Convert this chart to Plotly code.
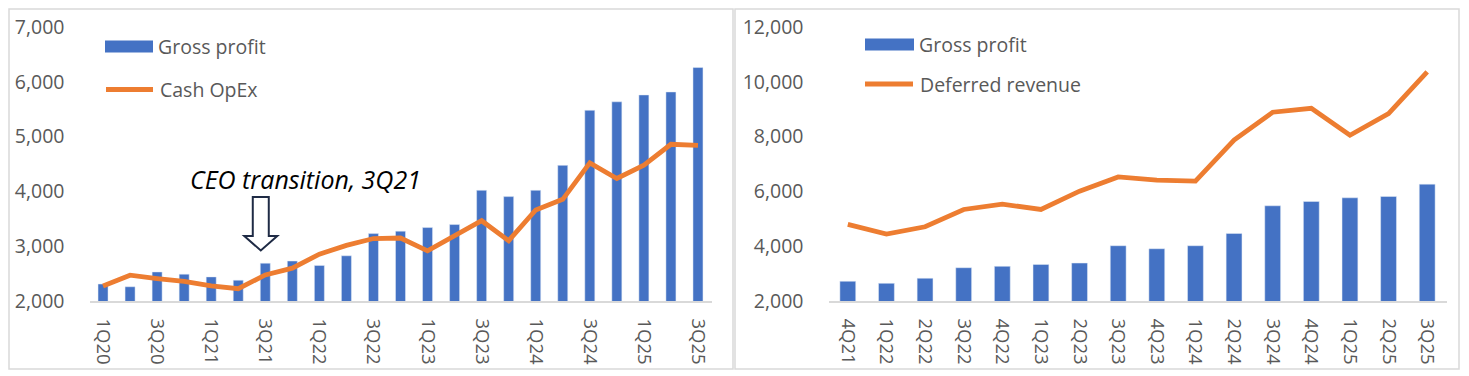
import plotly.graph_objects as go

# ---------------- data ----------------
quarters_left = ["1Q20", "2Q20", "3Q20", "4Q20", "1Q21", "2Q21", "3Q21", "4Q21",
                 "1Q22", "2Q22", "3Q22", "4Q22", "1Q23", "2Q23", "3Q23", "4Q23",
                 "1Q24", "2Q24", "3Q24", "4Q24", "1Q25", "2Q25", "3Q25"]
gross_profit = [2310, 2260, 2530, 2490, 2440, 2380, 2690, 2730,
                2650, 2825, 3230, 3275, 3340, 3395, 4020, 3905,
                4020, 4475, 5480, 5635, 5760, 5815, 6260]
cash_opex = [2275, 2470, 2410, 2360, 2275, 2225, 2475, 2600,
             2855, 3015, 3140, 3150, 2915, 3200, 3465, 3100,
             3660, 3855, 4520, 4235, 4480, 4860, 4840]

quarters_right = ["4Q21", "1Q22", "2Q22", "3Q22", "4Q22", "1Q23", "2Q23", "3Q23",
                  "4Q23", "1Q24", "2Q24", "3Q24", "4Q24", "1Q25", "2Q25", "3Q25"]
gross_profit_right = [2720, 2645, 2830, 3215, 3265, 3335, 3385, 4017,
                      3908, 4017, 4466, 5475, 5633, 5766, 5815, 6265]
deferred_revenue = [4795, 4440, 4710, 5340, 5535, 5340, 6010, 6530,
                    6410, 6375, 7870, 8890, 9035, 8050, 8840, 10360]

left_tick_labels = quarters_left[::2]
annotation_text = "CEO transition, 3Q21"
annotation_quarter = "3Q21"

# ---------------- style ----------------
# the page body has an 8px margin, so the figure starts at (8, 8) in the window
OFF = 8
W, H = 1469 - OFF, 376 - OFF
BLUE = "#4472C4"
ORANGE = "#ED7D31"
GREY_TXT = "#595959"
FONT = "Open Sans"
FS = 19.5


def fx(px):
    return (px - OFF) / W


def fy(py):
    return 1 - (py - OFF) / H


fig = go.Figure()

fig.add_trace(go.Bar(x=quarters_left, y=gross_profit, marker_color=BLUE,
                     width=0.37, xaxis="x", yaxis="y", name="Gross profit",
                     showlegend=False))
fig.add_trace(go.Scatter(x=quarters_left, y=cash_opex, mode="lines",
                         line=dict(color=ORANGE, width=4.8), xaxis="x", yaxis="y",
                         name="Cash OpEx", showlegend=False))
fig.add_trace(go.Bar(x=quarters_right, y=gross_profit_right, marker_color=BLUE,
                     width=0.41, xaxis="x2", yaxis="y2", name="Gross profit",
                     showlegend=False))
fig.add_trace(go.Scatter(x=quarters_right, y=deferred_revenue, mode="lines",
                         line=dict(color=ORANGE, width=4.8), xaxis="x2", yaxis="y2",
                         name="Deferred revenue", showlegend=False))

tickfont = dict(family=FONT, size=FS, color=GREY_TXT)
xtickfont = dict(family=FONT, size=18.5, color=GREY_TXT)
ydom = [fy(301), fy(27)]

xcommon = dict(type="category", showgrid=False, zeroline=False, showline=True,
               linecolor="#D9D9D9", linewidth=1.5, ticks="", tickangle=90,
               tickfont=xtickfont, ticklabelstandoff=12, fixedrange=True,
               automargin=False)
ycommon = dict(showgrid=False, zeroline=False, showline=False, ticks="",
               tickformat=",", tickfont=tickfont, ticklabelstandoff=24,
               fixedrange=True, domain=ydom, automargin=False)

fig.update_layout(
    width=W, height=H, autosize=False,
    margin=dict(l=0, r=0, t=0, b=0, pad=0, autoexpand=False),
    paper_bgcolor="white", plot_bgcolor="white",
    bargap=0.6,
    xaxis=dict(xcommon, domain=[fx(89.5), fx(711.5)], anchor="y",
               range=[-0.5, len(quarters_left) - 0.5],
               tickmode="array", tickvals=left_tick_labels, ticktext=left_tick_labels,
               categoryorder="array", categoryarray=quarters_left),
    yaxis=dict(ycommon, anchor="x", range=[2000, 7000], dtick=1000),
    xaxis2=dict(xcommon, domain=[fx(828.5), fx(1446.5)], anchor="y2",
                range=[-0.5, len(quarters_right) - 0.5],
                categoryorder="array", categoryarray=quarters_right),
    yaxis2=dict(ycommon, anchor="x2", range=[2000, 12000], dtick=2000),
)

shapes = []
# panel borders
for x0, x1 in [(9, 733), (735, 1459)]:
    shapes.append(dict(type="rect", xref="paper", yref="paper",
                       x0=fx(x0), x1=fx(x1), y0=fy(369), y1=fy(9),
                       line=dict(color="#D9D9D9", width=1.5), fillcolor="rgba(0,0,0,0)",
                       layer="below"))


# custom legends
def legend_entry(x0, x1, yc, kind, label):
    if kind == "bar":
        shapes.append(dict(type="rect", xref="paper", yref="paper",
                           x0=fx(x0), x1=fx(x1), y0=fy(yc + 6), y1=fy(yc - 6),
                           fillcolor=BLUE, line=dict(width=0)))
    else:
        shapes.append(dict(type="line", xref="paper", yref="paper",
                           x0=fx(x0 + 2), x1=fx(x1 - 2), y0=fy(yc), y1=fy(yc),
                           line=dict(color=ORANGE, width=4.8)))
    fig.add_annotation(x=fx(x1 + 3), y=fy(yc), xref="paper", yref="paper",
                       xanchor="left", yanchor="middle", showarrow=False,
                       text=label, font=dict(family=FONT, size=FS, color=GREY_TXT))


legend_entry(105, 153, 46.5, "bar", "Gross profit")
legend_entry(104, 155, 89.5, "line", "Cash OpEx")
legend_entry(865, 914, 44.5, "bar", "Gross profit")
legend_entry(863, 915, 84, "line", "Deferred revenue")

# hollow down arrow anchored at the CEO transition quarter
shapes.append(dict(type="path", xref="x", yref="y", xsizemode="pixel", ysizemode="pixel",
                   xanchor=annotation_quarter, yanchor=2000,
                   path="M -12.5,104 L 3.5,104 L 3.5,65 L 12,65 L -4.5,50.5 L -21,65 L -12.5,65 Z",
                   line=dict(color="#1F2B45", width=2), fillcolor="white"))

fig.update_layout(shapes=shapes)

fig.add_annotation(x=fx(188), y=fy(178.5), xref="paper", yref="paper",
                   xanchor="left", yanchor="middle", showarrow=False,
                   text="<i>" + annotation_text + "</i>",
                   font=dict(family=FONT, size=25, color="black"))

fig.write_html("out.html")
